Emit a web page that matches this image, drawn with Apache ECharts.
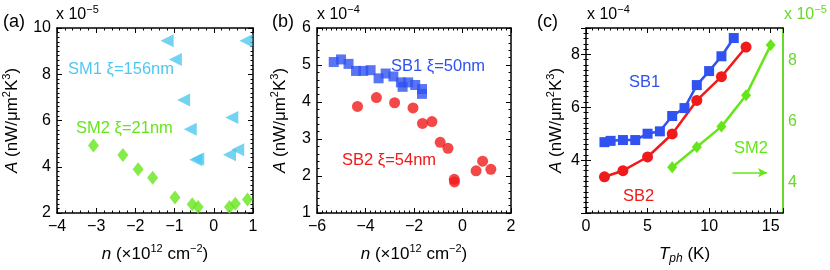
<!DOCTYPE html>
<html><head><meta charset="utf-8">
<script src="https://cdn.jsdelivr.net/npm/echarts@6/dist/echarts.min.js"></script>
<style>html,body{margin:0;padding:0;background:#fff}#c{width:830px;height:270px}</style>
</head><body><div id="c"></div>
<script>
// ---- Panel (a): A (x1e-5) vs n (x1e12 cm^-2)
const sm1N = [-1.19, -0.98, -0.77, -0.60, -0.46, -0.41, 0.40, 0.46, 0.61, 0.82];
const sm1A = [9.45, 8.64, 6.89, 5.62, 4.30, 4.33, 4.52, 6.13, 4.74, 9.45];
const sm2N = [-3.07, -2.32, -1.93, -1.56, -0.99, -0.55, -0.40, 0.40, 0.55, 0.86];
const sm2A = [4.92, 4.51, 3.89, 3.52, 2.67, 2.38, 2.26, 2.26, 2.40, 2.58];
// ---- Panel (b): A (x1e-4) vs n
const sb1N = [-5.31, -5.01, -4.70, -4.39, -4.09, -3.79, -3.46, -3.17, -2.85, -2.54, -2.47, -2.24, -1.95, -1.67, -1.67];
const sb1A = [5.08, 5.15, 5.03, 4.84, 4.84, 4.86, 4.64, 4.77, 4.69, 4.53, 4.41, 4.53, 4.46, 4.35, 4.22];
const sb2N = [-4.33, -3.55, -2.80, -2.04, -1.65, -1.26, -0.92, -0.60, -0.34, -0.33, 0.56, 0.83, 1.17];
const sb2A = [3.88, 4.12, 3.98, 3.84, 3.42, 3.47, 2.91, 2.75, 1.91, 1.84, 2.14, 2.40, 2.18];
// ---- Panel (c): A vs T_ph (K); SB in x1e-4 (left), SM2 in x1e-5 (right)
const sb1T = [1.5, 2, 3, 4, 5, 6, 7, 8, 9, 10, 11, 12];
const sb1Ac = [4.68, 4.73, 4.76, 4.76, 5.00, 5.09, 5.67, 5.97, 6.84, 7.37, 7.93, 8.62];
const sb2T = [1.5, 3, 5, 7, 9, 11, 13];
const sb2Ac = [3.37, 3.60, 4.12, 4.99, 6.26, 7.16, 8.28];
const sm2T = [7, 9, 11, 13, 15];
const sm2Ac = [4.50, 5.16, 5.83, 6.86, 8.50];
// ---- labels
const panelLabels = ['(a)', '(b)', '(c)'];
const expLeft = ['−5', '−4', '−4'];
const expRight = '−5';
const annA = ['SM1 ξ=156nm', 'SM2 ξ=21nm'];
const annB = ['SB1 ξ=50nm', 'SB2 ξ=54nm'];
const annC = ['SB1', 'SB2', 'SM2'];

const FONT = 'Liberation Sans';
const C_CYAN = '#4fc8f0', C_GREEN = '#66e61a', C_BLUE = '#2f52f0', C_RED = '#f01a1a', C_GAXIS = '#66d92a';
const zip = (a, b) => a.map((v, i) => [v, b[i]]);
const minus = v => String(v).replace('-', '−');

const nameStyle = {
  fontFamily: FONT, fontSize: 17, color: '#000', lineHeight: 22,
  rich: {
    i: { fontFamily: FONT, fontSize: 17, fontStyle: 'italic', color: '#000', lineHeight: 22 },
    sup: { fontFamily: FONT, fontSize: 11, verticalAlign: 'top', lineHeight: 10, color: '#000' },
    sub: { fontFamily: FONT, fontSize: 12, fontStyle: 'italic', verticalAlign: 'bottom', lineHeight: 10, color: '#000' }
  }
};

function ax(gridIndex, min, max, interval, minor, position, showLabel, fmt, extra) {
  const o = {
    type: 'value', gridIndex, min, max, interval, position,
    axisLine: { show: true, onZero: false, lineStyle: { color: '#000', width: 1.5 } },
    axisTick: { show: true, inside: true, length: 5, lineStyle: { color: '#000', width: 1 } },
    minorTick: { show: true, splitNumber: minor, length: 2.5, lineStyle: { color: '#000', width: 1 } },
    splitLine: { show: false }, minorSplitLine: { show: false },
    axisLabel: { show: showLabel, color: '#000', fontFamily: FONT, fontSize: 16, margin: 6, formatter: fmt || minus }
  };
  return Object.assign(o, extra || {});
}
const yName = '{i|A} (nW/μm{sup|2}K{sup|3})';
const nName = '{i|n} (×10{sup|12} cm{sup|−2})';

const xAxis = [
  ax(0, -4, 1, 1, 5, 'bottom', true, null, { name: nName, nameLocation: 'middle', nameGap: 30, nameTextStyle: nameStyle }),
  ax(0, -4, 1, 1, 5, 'top', false),
  ax(1, -6, 2, 2, 10, 'bottom', true, null, { name: nName, nameLocation: 'middle', nameGap: 30, nameTextStyle: nameStyle }),
  ax(1, -6, 2, 2, 10, 'top', false),
  ax(2, 0, 16, 5, 10, 'bottom', true, v => (v % 5 === 0 ? String(v) : ''), { name: '{i|T}{sub|ph} (K)', nameLocation: 'middle', nameGap: 30, nameTextStyle: nameStyle }),
  ax(2, 0, 16, 5, 10, 'top', false)
];
const yAxis = [
  ax(0, 2, 10, 2, 10, 'left', true, null, { name: yName, nameLocation: 'middle', nameGap: 34, nameRotate: 90, nameTextStyle: nameStyle }),
  ax(0, 2, 10, 2, 10, 'right', false),
  ax(1, 1, 6, 1, 5, 'left', true, null, { name: yName, nameLocation: 'middle', nameGap: 26, nameRotate: 90, nameTextStyle: nameStyle }),
  ax(1, 1, 6, 1, 5, 'right', false),
  ax(2, 2, 9, 2, 10, 'left', true, v => (v >= 4 && v <= 8 ? String(v) : ''), { name: yName, nameLocation: 'middle', nameGap: 16, nameRotate: 90, nameTextStyle: nameStyle }),
  ax(2, 2, 9, 2, 10, 'right', false, null, { axisLine: { show: false } }),
  {
    type: 'value', gridIndex: 2, min: 3, max: 9.06, interval: 1, position: 'right',
    axisLine: { show: true, onZero: false, lineStyle: { color: C_GAXIS, width: 2 } },
    axisTick: { show: false }, splitLine: { show: false },
    axisLabel: { show: true, color: C_GAXIS, fontFamily: FONT, fontSize: 16, margin: 5,
      formatter: v => ([4, 6, 8].includes(v) ? String(v) : '') }
  }
];

const series = [
  { type: 'scatter', xAxisIndex: 0, yAxisIndex: 0, data: zip(sm1N, sm1A), symbol: 'triangle', symbolRotate: 90, symbolSize: [13, 13], itemStyle: { color: C_CYAN } },
  { type: 'scatter', xAxisIndex: 0, yAxisIndex: 0, data: zip(sm2N, sm2A), symbol: 'diamond', symbolSize: [11, 14], itemStyle: { color: C_GREEN } },
  { type: 'scatter', xAxisIndex: 2, yAxisIndex: 2, data: zip(sb1N, sb1A), symbol: 'rect', symbolSize: 10, itemStyle: { color: C_BLUE } },
  { type: 'scatter', xAxisIndex: 2, yAxisIndex: 2, data: zip(sb2N, sb2A), symbol: 'circle', symbolSize: 11, itemStyle: { color: C_RED } },
  { type: 'line', xAxisIndex: 4, yAxisIndex: 4, data: zip(sb1T, sb1Ac), symbol: 'rect', symbolSize: 10, showSymbol: true,
    lineStyle: { color: C_BLUE, width: 2.5 }, itemStyle: { color: C_BLUE } },
  { type: 'line', xAxisIndex: 4, yAxisIndex: 4, data: zip(sb2T, sb2Ac), symbol: 'circle', symbolSize: 11, showSymbol: true,
    lineStyle: { color: C_RED, width: 2.5 }, itemStyle: { color: C_RED } },
  { type: 'line', xAxisIndex: 4, yAxisIndex: 6, data: zip(sm2T, sm2Ac), symbol: 'diamond', symbolSize: [10, 12], showSymbol: true,
    lineStyle: { color: C_GREEN, width: 2.5 }, itemStyle: { color: C_GREEN },
    markLine: { silent: true, symbol: ['none', 'arrow'], symbolSize: [7, 9], label: { show: false },
      lineStyle: { color: C_GREEN, width: 1.5, type: 'solid' },
      data: [[{ coord: [11.9, 4.32] }, { coord: [14.7, 4.32] }]] } }
];

function txt(x, y, text, color, size, extra) {
  return { type: 'text', x, y, silent: true,
    style: Object.assign({ text, fill: color, fontFamily: FONT, fontSize: size, align: 'left', verticalAlign: 'middle' }, extra || {}) };
}
const expRich = c => ({ lineHeight: 22, rich: { sup: { fontFamily: FONT, fontSize: 11, verticalAlign: 'top', lineHeight: 8, fill: c } } });

const graphic = [
  txt(3, 22, panelLabels[0], '#000', 18),
  txt(272, 22, panelLabels[1], '#000', 18),
  txt(537, 22, panelLabels[2], '#000', 18),
  txt(56, 15, 'x 10{sup|' + expLeft[0] + '}', '#000', 16, expRich('#000')),
  txt(317, 15, 'x 10{sup|' + expLeft[1] + '}', '#000', 16, expRich('#000')),
  txt(587, 15, 'x 10{sup|' + expLeft[2] + '}', '#000', 16, expRich('#000')),
  txt(784, 15, 'x 10{sup|' + expRight + '}', C_GAXIS, 16, expRich(C_GAXIS)),
  txt(68, 69, annA[0], C_CYAN, 16.5),
  txt(76, 128, annA[1], C_GREEN, 16.5),
  txt(391, 66, annB[0], C_BLUE, 16.5),
  txt(342, 160, annB[1], C_RED, 16.5),
  txt(629, 82, annC[0], C_BLUE, 16.5),
  txt(623, 196, annC[1], C_RED, 16.5),
  txt(734, 148, annC[2], C_GREEN, 16.5)
];

const chart = echarts.init(document.getElementById('c'), null, { renderer: 'canvas' });
chart.setOption({
  animation: false,
  backgroundColor: '#fff',
  grid: [
    { left: 56, top: 28, width: 197, height: 188 },
    { left: 317, top: 28, width: 194, height: 188 },
    { left: 586, top: 28, width: 197, height: 188 }
  ],
  xAxis, yAxis, series, graphic
});
</script></body></html>
